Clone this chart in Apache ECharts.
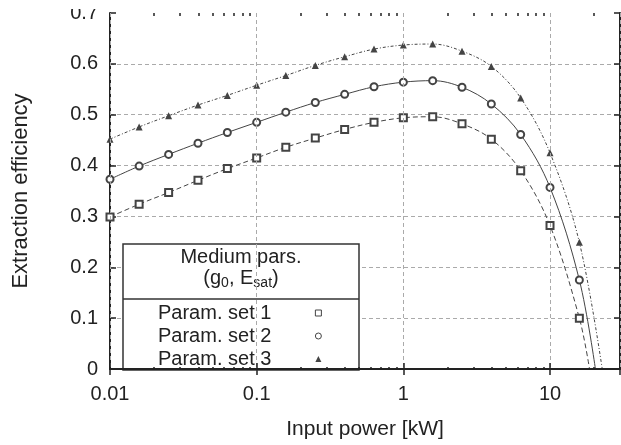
<!DOCTYPE html>
<html>
<head>
<meta charset="utf-8">
<script src="https://cdn.jsdelivr.net/npm/echarts@6/dist/echarts.min.js"></script>
<style>
  * { margin: 0; padding: 0; }
  body { background: #fff; }
  #chart { width: 621px; height: 445px; }
</style>
</head>
<body>
<div id="chart"></div>
<script>
// input power [kW], point positions
const power = [0.01, 0.0158, 0.0251, 0.0398, 0.0631, 0.1, 0.158, 0.251, 0.398, 0.631, 1, 1.585, 2.512, 3.98, 6.31, 10, 15.85];
// extraction efficiency per parameter set
const set1 = [0.299, 0.324, 0.347, 0.371, 0.394, 0.415, 0.436, 0.454, 0.471, 0.485, 0.494, 0.496, 0.482, 0.452, 0.390, 0.282, 0.100];
const set2 = [0.373, 0.399, 0.422, 0.444, 0.465, 0.485, 0.505, 0.524, 0.540, 0.555, 0.564, 0.567, 0.554, 0.521, 0.461, 0.357, 0.175];
const set3 = [0.452, 0.476, 0.498, 0.519, 0.538, 0.558, 0.577, 0.597, 0.614, 0.629, 0.637, 0.639, 0.625, 0.595, 0.533, 0.425, 0.249];
// where each curve reaches zero
const zeroAt = [18.6, 20.4, 22.7];
const names = ["Param. set 1", "Param. set 2", "Param. set 3"];
// minor tick marks of the log axis (2..9 of every decade)
const minorTicks = [0.02, 0.03, 0.04, 0.05, 0.06, 0.07, 0.08, 0.09,
  0.2, 0.3, 0.4, 0.5, 0.6, 0.7, 0.8, 0.9,
  2, 3, 4, 5, 6, 7, 8, 9, 20];

const FONT = "Liberation Sans, Arial, Helvetica, sans-serif";
const INK = "#222";
const LINE = "#444";
const X_MIN = 0.01, X_MAX = 30;

function toPoints(ys, end) {
  const pts = ys.map((y, i) => [power[i], y]);
  pts.push({ value: [end, 0], symbol: "none" });
  return pts;
}

const chart = echarts.init(document.getElementById("chart"));

const gridBox = { left: 110, right: 1, top: 13, bottom: 75 };
const dashed = { show: true, lineStyle: { color: "#aaa", type: [4, 3], width: 1 } };

// log axis customValues get filtered against the log extent, so the minor
// ticks sit on a plain helper axis running over log10 of the same range
function minorAxis(pos) {
  return {
    type: "value", gridIndex: 1, position: pos, z: 8,
    min: Math.log10(X_MIN), max: Math.log10(X_MAX),
    axisLine: { show: false },
    axisTick: {
      show: true, inside: true, length: 3,
      customValues: minorTicks.map(Math.log10),
      lineStyle: { color: INK, width: 1.5 },
    },
    axisLabel: { show: false },
    splitLine: { show: false },
  };
}

const option = {
  animation: false,
  grid: [
    Object.assign({}, gridBox),
    Object.assign({}, gridBox),
  ],
  xAxis: [
    {
      type: "log", gridIndex: 0, position: "bottom", z: 7,
      min: X_MIN, max: X_MAX, logBase: 10,
      name: "Input power [kW]", nameLocation: "middle", nameGap: 50,
      nameTextStyle: { fontFamily: FONT, fontSize: 21, color: INK },
      axisLine: { show: true, lineStyle: { color: INK, width: 2 } },
      axisTick: { show: true, inside: true, length: 6, lineStyle: { color: INK, width: 1.5 } },
      axisLabel: { fontFamily: FONT, fontSize: 20, color: INK, margin: 15, showMaxLabel: false },
      splitLine: dashed,
      minorTick: { show: false },
    },
    {
      type: "log", gridIndex: 0, position: "top",
      min: X_MIN, max: X_MAX, logBase: 10,
      axisLine: { show: true, lineStyle: { color: INK, width: 2 } },
      axisTick: { show: true, inside: true, length: 6, lineStyle: { color: INK, width: 1.5 } },
      axisLabel: { show: false },
      splitLine: { show: false },
    },
    minorAxis("bottom"),
    minorAxis("top"),
  ],
  yAxis: [
    {
      type: "value", gridIndex: 0, position: "left",
      min: 0, max: 0.7, interval: 0.1,
      name: "Extraction efficiency", nameLocation: "middle", nameGap: 78,
      nameTextStyle: { fontFamily: FONT, fontSize: 22, color: INK },
      axisLine: { show: true, lineStyle: { color: INK, width: 2 } },
      axisTick: { show: true, inside: true, length: 6, lineStyle: { color: INK, width: 1.5 } },
      axisLabel: { fontFamily: FONT, fontSize: 20, color: INK, margin: 12 },
      splitLine: Object.assign({ showMinLine: false, showMaxLine: false }, dashed),
    },
    {
      type: "value", gridIndex: 0, position: "right",
      min: 0, max: 0.7, interval: 0.1,
      axisLine: { show: true, lineStyle: { color: INK, width: 2 } },
      axisTick: { show: true, inside: true, length: 6, lineStyle: { color: INK, width: 1.5 } },
      axisLabel: { show: false },
      splitLine: { show: false },
    },
    {
      type: "value", gridIndex: 1, min: 0, max: 0.7, show: false,
    },
  ],
  legend: {
    orient: "vertical",
    left: 158, top: 303,
    align: "right",
    padding: 0,
    itemGap: 3,
    itemWidth: 6, itemHeight: 6,
    selectedMode: false,
    z: 10,
    textStyle: { fontFamily: FONT, fontSize: 20, color: INK, lineHeight: 20, padding: [0, 39, 0, 0] },
    data: [
      { name: names[0], icon: "rect", itemStyle: { color: "#fff", borderColor: LINE, borderWidth: 1 } },
      { name: names[1], icon: "circle", itemStyle: { color: "#fff", borderColor: LINE, borderWidth: 1 } },
      { name: names[2], icon: "triangle", itemStyle: { color: LINE } },
    ],
  },
  graphic: [
    {
      type: "rect", z: 5,
      shape: { x: 123, y: 244, width: 236, height: 126 },
      style: { fill: "#fff", stroke: "#333", lineWidth: 1.5 },
    },
    {
      type: "line", z: 6,
      shape: { x1: 123, y1: 299, x2: 359, y2: 299 },
      style: { stroke: "#333", lineWidth: 1.5 },
    },
    {
      type: "text", z: 6, x: 241, y: 257,
      style: { text: "Medium pars.", font: "20px " + FONT, fill: INK, align: "center", verticalAlign: "middle" },
    },
    {
      type: "text", z: 6, x: 241, y: 278,
      style: {
        text: "(g{sub|0}, E{sub|sat})",
        font: "20px " + FONT, fill: INK, align: "center", verticalAlign: "middle",
        lineHeight: 24,
        rich: {
          sub: { fontSize: 14, fontFamily: FONT, fill: INK, lineHeight: 14, padding: [12, 0, 0, 0], verticalAlign: "bottom" },
        },
      },
    },
    {
      // the source image is cut just above the plot, clipping the top label
      type: "rect", z: 20,
      shape: { x: 50, y: 0, width: 55, height: 9 },
      style: { fill: "#fff" },
    },
  ],
  series: [
    {
      name: names[0], type: "line", xAxisIndex: 0, yAxisIndex: 0,
      smooth: 0.35, symbol: "emptyRect", symbolSize: 7,
      itemStyle: { color: LINE },
      lineStyle: { color: LINE, width: 1, type: [5, 3] },
      data: toPoints(set1, zeroAt[0]),
      z: 3,
    },
    {
      name: names[1], type: "line", xAxisIndex: 0, yAxisIndex: 0,
      smooth: 0.35, symbol: "emptyCircle", symbolSize: 7,
      itemStyle: { color: LINE },
      lineStyle: { color: LINE, width: 1 },
      data: toPoints(set2, zeroAt[1]),
      z: 3,
    },
    {
      name: names[2], type: "line", xAxisIndex: 0, yAxisIndex: 0,
      smooth: 0.35, symbol: "triangle", symbolSize: 7,
      itemStyle: { color: LINE },
      lineStyle: { color: LINE, width: 1, type: [3, 2, 1, 2] },
      data: toPoints(set3, zeroAt[2]),
      z: 3,
    },
  ],
};

chart.setOption(option);
</script>
</body>
</html>
